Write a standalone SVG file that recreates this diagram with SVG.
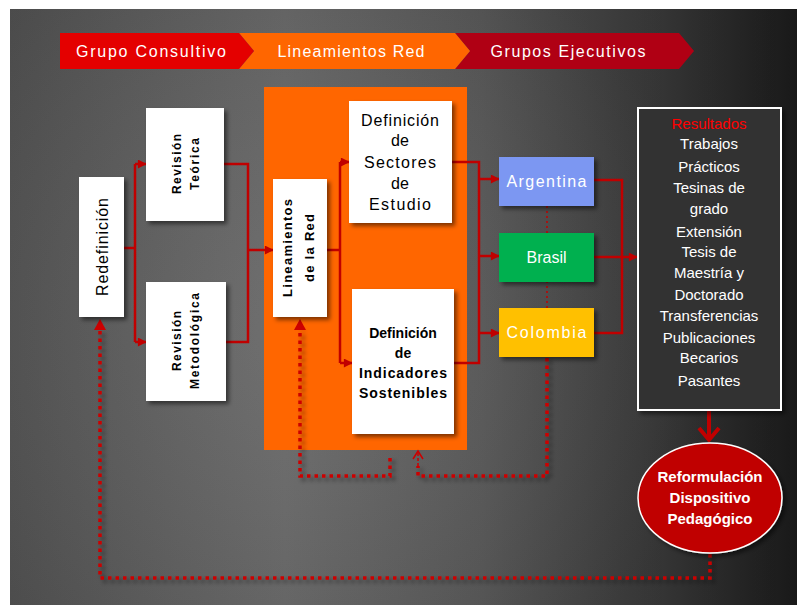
<svg xmlns="http://www.w3.org/2000/svg" width="797" height="605" viewBox="0 0 797 605">
<defs>
<linearGradient id="bg" x1="10" y1="0" x2="797" y2="0" gradientUnits="userSpaceOnUse">
<stop offset="0" stop-color="#525252"/>
<stop offset="0.35" stop-color="#676767"/>
<stop offset="0.6" stop-color="#575757"/>
<stop offset="0.82" stop-color="#3a3a3a"/>
<stop offset="1" stop-color="#1b1b1b"/>
</linearGradient>
<radialGradient id="bgr" cx="300" cy="330" r="420" gradientUnits="userSpaceOnUse">
<stop offset="0" stop-color="#ffffff" stop-opacity="0.06"/>
<stop offset="1" stop-color="#000000" stop-opacity="0.08"/>
</radialGradient>
<filter id="sh" x="-20%" y="-20%" width="140%" height="140%">
<feDropShadow dx="3" dy="3" stdDeviation="2" flood-color="#000" flood-opacity="0.5"/>
</filter>
<marker id="ah" viewBox="0 0 10 10" refX="9" refY="5" markerWidth="10" markerHeight="9" markerUnits="userSpaceOnUse" orient="auto">
<path d="M0,0 L10,5 L0,10 z" fill="#c00000"/>
</marker>
<style>
.box{fill:#ffffff;filter:url(#sh)}
.t{font-family:"Liberation Sans",Arial,sans-serif;text-anchor:middle}
.w{fill:#ffffff}
.k{fill:#000000}
.con{fill:none;stroke:#c00000;stroke-width:2.5}
.dot{fill:none;stroke:#cc0000;stroke-width:3.5;stroke-dasharray:3.5 4}
</style>
</defs>
<rect x="0" y="0" width="797" height="605" fill="#ffffff"/>
<rect x="10" y="9" width="787" height="596" fill="url(#bg)"/>
<rect x="10" y="9" width="787" height="596" fill="url(#bgr)"/>

<g id="banner">
<polygon points="455,33 679,33 694,51 679,69 455,69 470,51" fill="#b00014"/>
<polygon points="239,33 455,33 470,51 455,69 239,69 254,51" fill="#ff6600"/>
<polygon points="60,33 239,33 254,51 239,69 60,69" fill="#e40000"/>
<text class="t w" x="151" y="56.5" font-size="16" textLength="150" lengthAdjust="spacing">Grupo Consultivo</text>
<text class="t w" x="351" y="56.5" font-size="16" textLength="147" lengthAdjust="spacing">Lineamientos Red</text>
<text class="t w" x="568" y="56.5" font-size="16" textLength="155" lengthAdjust="spacing">Grupos Ejecutivos</text>
</g>

<g id="orange-panel">
<rect x="264" y="87" width="203" height="363" fill="#ff6600"/>
</g>

<g id="connectors">
<polyline class="con" points="123,248 135,248"/>
<polyline class="con" points="135,164 135,342"/>
<line class="con" x1="135" y1="164" x2="146" y2="164" marker-end="url(#ah)"/>
<line class="con" x1="135" y1="342" x2="146" y2="342" marker-end="url(#ah)"/>
<polyline class="con" points="224,164 248,164 248,342 226,342"/>
<line class="con" x1="248" y1="250" x2="273" y2="250" marker-end="url(#ah)"/>
<polyline class="con" points="327,250 340,250"/>
<polyline class="con" points="340,162 340,363"/>
<line class="con" x1="340" y1="162" x2="349" y2="162" marker-end="url(#ah)"/>
<line class="con" x1="340" y1="363" x2="352" y2="363" marker-end="url(#ah)"/>
<polyline class="con" points="452,162 479,162 479,363 454,363"/>
<line class="con" x1="479" y1="179" x2="499" y2="179" marker-end="url(#ah)"/>
<line class="con" x1="479" y1="256" x2="499" y2="256" marker-end="url(#ah)"/>
<line class="con" x1="479" y1="333" x2="499" y2="333" marker-end="url(#ah)"/>
<polyline class="con" points="594,180 622,180 622,333 594,333"/>
<line class="con" x1="594" y1="257" x2="637" y2="257" marker-end="url(#ah)"/>
<line x1="547" y1="206" x2="547" y2="308" stroke="#c00000" stroke-width="1.5" stroke-dasharray="2 3"/>
<line x1="709" y1="411" x2="709" y2="440" stroke="#c00000" stroke-width="4"/>
<polyline points="699,428 709,440 719,428" fill="none" stroke="#c00000" stroke-width="4"/>
<g filter="url(#sh)">
<polyline class="dot" points="710,554 710,578 100,578 100,328"/>
<polyline class="dot" points="390,458 390,476 300,476 300,328"/>
<polyline class="dot" points="547,358 547,476 418,476 418,466"/>
</g>
<path d="M100,319 L94,330 L106,330 z" fill="#cc0000"/>
<path d="M300,319 L294,330 L306,330 z" fill="#cc0000"/>
<line x1="418" y1="466" x2="418" y2="452" stroke="#cc0000" stroke-width="1.5" stroke-dasharray="3 2"/>
<polyline points="413,459 418,451 423,459" fill="none" stroke="#cc0000" stroke-width="1.5"/>
</g>

<g id="redefinicion">
<rect class="box" x="79" y="177" width="45" height="140"/>
<text class="t k" transform="translate(102,247) rotate(-90)" y="5.5" font-size="16" textLength="98" lengthAdjust="spacing">Redefinición</text>
</g>

<g id="revision-teorica">
<rect class="box" x="146" y="108" width="78" height="113"/>
<text class="t k" transform="translate(186,164) rotate(-90)" font-size="12" font-weight="bold"><tspan x="0" y="-5" textLength="60" lengthAdjust="spacing">Revisión</tspan><tspan x="0" y="13" textLength="52" lengthAdjust="spacing">Teórica</tspan></text>
</g>

<g id="revision-metodologica">
<rect class="box" x="146" y="282" width="80" height="119"/>
<text class="t k" transform="translate(186,341) rotate(-90)" font-size="12" font-weight="bold"><tspan x="0" y="-5" textLength="60" lengthAdjust="spacing">Revisión</tspan><tspan x="0" y="13" textLength="96" lengthAdjust="spacing">Metodológica</tspan></text>
</g>

<g id="lineamientos">
<rect class="box" x="273" y="179" width="54" height="138"/>
<text class="t k" transform="translate(300,248) rotate(-90)" font-size="13" font-weight="bold"><tspan x="0" y="-8" textLength="98" lengthAdjust="spacing">Lineamientos</tspan><tspan x="0" y="14" textLength="68" lengthAdjust="spacing">de la Red</tspan></text>
</g>

<g id="sectores">
<rect class="box" x="349" y="101" width="103" height="122"/>
<text class="t k" font-size="16"><tspan x="400" y="126" textLength="78" lengthAdjust="spacing">Definición</tspan><tspan x="400" y="146">de</tspan><tspan x="400" y="168" textLength="72" lengthAdjust="spacing">Sectores</tspan><tspan x="400" y="189">de</tspan><tspan x="400" y="210" textLength="62" lengthAdjust="spacing">Estudio</tspan></text>
</g>

<g id="indicadores">
<rect class="box" x="352" y="289" width="102" height="145"/>
<text class="t k" font-size="14" font-weight="bold"><tspan x="403" y="338">Definición</tspan><tspan x="403" y="358">de</tspan><tspan x="403" y="378" textLength="88" lengthAdjust="spacing">Indicadores</tspan><tspan x="403" y="398" textLength="88" lengthAdjust="spacing">Sostenibles</tspan></text>
</g>

<g id="argentina">
<rect x="499" y="157" width="95" height="49" fill="#7b97f2" filter="url(#sh)"/>
<text class="t w" x="546.5" y="186.5" font-size="16" textLength="80" lengthAdjust="spacing">Argentina</text>
</g>
<g id="brasil">
<rect x="499" y="233" width="95" height="49" fill="#00b050" filter="url(#sh)"/>
<text class="t w" x="546.5" y="262.5" font-size="16">Brasil</text>
</g>
<g id="colombia">
<rect x="499" y="308" width="95" height="49" fill="#ffc000" filter="url(#sh)"/>
<text class="t w" x="546.5" y="337.5" font-size="16" textLength="80" lengthAdjust="spacing">Colombia</text>
</g>

<g id="resultados">
<rect x="638" y="108" width="143" height="302" fill="#333333" stroke="#ffffff" stroke-width="2" filter="url(#sh)"/>
<g class="t" font-size="15">
<text x="709" y="129" fill="#ff0000">Resultados</text>
<text class="w" x="709" y="149">Trabajos</text>
<text class="w" x="709" y="172">Prácticos</text>
<text class="w" x="709" y="193">Tesinas de</text>
<text class="w" x="709" y="214">grado</text>
<text class="w" x="709" y="237">Extensión</text>
<text class="w" x="709" y="257">Tesis de</text>
<text class="w" x="709" y="278">Maestría y</text>
<text class="w" x="709" y="300">Doctorado</text>
<text class="w" x="709" y="321">Transferencias</text>
<text class="w" x="709" y="343">Publicaciones</text>
<text class="w" x="709" y="363">Becarios</text>
<text class="w" x="709" y="386">Pasantes</text>
</g>
</g>

<g id="reformulacion">
<ellipse cx="710" cy="498" rx="72" ry="55" fill="#c00000" stroke="#ffffff" stroke-width="1.5" filter="url(#sh)"/>
<text class="t w" font-size="15" font-weight="bold"><tspan x="710" y="482">Reformulación</tspan><tspan x="710" y="503">Dispositivo</tspan><tspan x="710" y="524">Pedagógico</tspan></text>
</g>
</svg>
